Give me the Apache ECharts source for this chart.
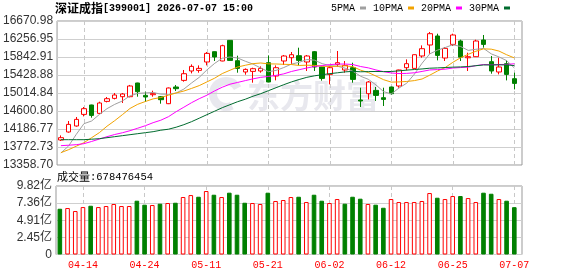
<!DOCTYPE html>
<html lang="zh">
<head>
    <meta charset="UTF-8">
    <title>深证成指</title>
    <script src="https://cdn.jsdelivr.net/npm/echarts@6/dist/echarts.min.js"></script>
    <style>
        html, body { margin: 0; padding: 0; background: #fff; }
        #charts { width: 578px; height: 276px; }
    </style>
</head>
<body>
<div id="charts"></div>

<script>
    // 交易日
    var dates = [
        '04-09','04-10','04-13','04-14','04-15','04-16','04-17','04-20','04-21','04-22',
        '04-23','04-24','04-27','04-28','04-29','04-30','05-06','05-07','05-08','05-11',
        '05-12','05-13','05-14','05-15','05-18','05-19','05-20','05-21','05-22','05-25',
        '05-26','05-27','05-28','05-29','06-01','06-02','06-03','06-04','06-05','06-08',
        '06-09','06-10','06-11','06-12','06-15','06-16','06-17','06-18','06-22','06-23',
        '06-24','06-25','06-26','06-29','06-30','07-01','07-02','07-03','07-06','07-07'
    ];
    // 横轴显示的日期
    var shownDates = ['04-14', '04-24', '05-11', '05-21', '06-02', '06-12', '06-25', '07-07'];

    // K线
    var opens = [
        13934,14118,14256,14523,14739,14546,14822,14891,14930,14930,
        15245,14960,14976,14930,14769,15153,15305,15521,15535,15728,
        15965,15751,16225,15758,15498,15512,15521,15712,15406,15751,
        15827,15873,15728,15965,15613,15443,15673,15544,15597,14854,
        14999,15075,14907,15153,15176,15597,15581,15866,16119,16326,
        15820,16133,16211,15825,15850,16234,15735,15498,15689,15344
    ];
    var closes = [
        13987,14293,14408,14654,14500,14785,14884,14969,14992,15176,
        15045,14923,15006,14861,15130,15114,15459,15627,15581,15926,
        15843,16103,15765,15581,15558,15574,15580,15268,15597,15866,
        15896,15765,15866,15613,15351,15597,15712,15650,15328,14831,
        15268,14960,14868,14999,15544,15689,15896,16034,16379,15880,
        16041,16349,15840,15850,16211,16133,15521,15613,15443,15236
    ];
    var lows = [
        13911,14102,14240,14477,14447,14532,14799,14868,14785,14915,
        14930,14808,14930,14769,14760,15061,15275,15466,15482,15650,
        15751,15745,15760,15482,15436,15252,15482,15260,15305,15659,
        15673,15650,15521,15521,15298,15213,15613,15482,15252,14693,
        14868,14831,14716,14976,15137,15535,15575,15827,15919,15765,
        15751,16096,15751,15521,15845,16057,15459,15443,15305,15098
    ];
    var highs = [
        14040,14371,14463,14693,14745,14815,14923,15015,15015,15200,
        15250,15045,15068,14946,15140,15199,15544,15673,15650,15958,
        15970,16126,16230,15873,15581,15597,15627,15880,15650,15889,
        15958,16057,15889,15981,15620,15635,15981,15751,15712,15137,
        15291,15153,15137,15160,15550,15788,15900,16110,16418,16379,
        16073,16379,16241,15942,16241,16349,15866,15827,15765,15482
    ];
    var prevClose = 14000;   // 首日前一交易日收盘

    // 均线
    var ma5 = [
        13635,13796,14063,14309,14371,14520,14655,14753,14831,14950,
        15005,15018,15025,14990,14985,15015,15105,15245,15375,15545,
        15695,15815,15843,15820,15745,15680,15590,15505,15535,15600,
        15680,15720,15785,15770,15690,15645,15630,15585,15515,15400,
        15330,15200,15045,14995,15130,15240,15450,15700,15915,16000,
        16060,16125,16085,15995,16020,16040,15915,15845,15760,15590
    ];
    var ma10 = [
        13642,13711,13791,13872,13987,14102,14251,14378,14516,14660,
        14755,14820,14880,14910,14965,15015,15060,15120,15185,15270,
        15355,15462,15538,15613,15653,15690,15705,15685,15682,15675,
        15670,15648,15654,15650,15630,15625,15630,15640,15620,15540,
        15485,15405,15320,15265,15270,15280,15300,15337,15425,15520,
        15600,15720,15825,15905,15975,16030,16023,15980,15895,15822
    ];
    var ma20 = [
        13803,13814,13826,13849,13900,13955,14010,14060,14100,14148,
        14205,14263,14332,14389,14470,14585,14688,14792,14884,14964,
        15063,15148,15217,15258,15300,15340,15375,15395,15420,15455,
        15510,15550,15590,15625,15645,15668,15680,15681,15669,15624,
        15593,15545,15505,15475,15463,15466,15480,15511,15545,15553,
        15563,15589,15600,15610,15644,15670,15665,15670,15672,15688
    ];
    var ma30 = [
        13941,13941,13941,13941,13952,13964,13987,14010,14033,14056,
        14079,14102,14125,14159,14182,14228,14286,14355,14435,14516,
        14596,14677,14746,14815,14872,14941,14999,15068,15137,15206,
        15270,15325,15375,15410,15435,15460,15480,15501,15512,15503,
        15507,15510,15507,15510,15524,15541,15555,15568,15585,15592,
        15601,15609,15615,15624,15643,15660,15660,15662,15661,15645
    ];

    // 成交量(亿)
    var volumes = [
        6.56,6.66,6.23,6.80,6.99,6.80,6.95,7.24,6.95,6.95,
        7.71,7.14,7.09,7.28,7.38,7.42,8.24,8.52,8.28,9.10,
        8.57,8.24,8.86,8.57,7.42,7.38,7.24,8.86,7.67,7.81,
        8.24,8.28,7.52,8.57,7.71,7.38,7.95,7.28,8.28,8.00,
        7.24,7.14,6.70,7.95,7.52,7.52,7.52,7.67,8.81,8.14,
        7.95,8.38,8.38,8.09,7.52,8.86,8.71,7.95,7.71,6.78476454
    ];

    // 纵轴刻度
    var priceTicks = ['16670.98','16256.95','15842.91','15428.88','15014.84','14600.80','14186.77','13772.73','13358.70'];
    var volTicks = ['0', '2.45亿', '4.91亿', '7.36亿', '9.82亿'];

    var maNames = ['5PMA', '10PMA', '20PMA', '30PMA'];
    var maColors = ['#a0a0a0', '#f2a300', '#ff00ff', '#006b2e'];

    var upColor = '#ff0000';
    var downColor = '#008000';
    var mono = '"Liberation Mono", "Noto Sans CJK SC", monospace';
    var sans = '"Liberation Sans", "Noto Sans CJK SC", sans-serif';
    var cjk = '"Noto Sans CJK SC", sans-serif';

    var labelIdx = shownDates.map(function (d) { return dates.indexOf(d); });
    var priceVals = priceTicks.map(Number);
    var volMax = parseFloat(volTicks[volTicks.length - 1]);
    var volVals = volTicks.map(function (s, i) { return volMax * i / (volTicks.length - 1); });

    function nearestLabel(vals, labels, v) {
        var best = 0;
        for (var i = 1; i < vals.length; i++) {
            if (Math.abs(vals[i] - v) < Math.abs(vals[best] - v)) best = i;
        }
        return labels[best];
    }

    var chart = echarts.init(document.getElementById('charts'));

    var maSeries = maNames.map(function (name, k) {
        var arr = [ma5, ma10, ma20, ma30][k];
        return {
            name: name,
            type: 'line',
            xAxisIndex: 0,
            yAxisIndex: 0,
            symbol: 'none',
            silent: true,
            lineStyle: { width: 1, color: maColors[k] },
            itemStyle: { color: maColors[k] },
            data: arr.map(function (v, i) { return [i, v]; })
        };
    });

    var volData = volumes.map(function (v, i) {
        var before = i === 0 ? prevClose : closes[i - 1];
        var up = closes[i] >= before;
        return {
            value: [i, v],
            itemStyle: {
                color: up ? '#fff' : downColor,
                borderColor: up ? upColor : downColor,
                borderWidth: 1
            }
        };
    });

    var xAxes = [0, 1].map(function (g) {
        return {
            type: 'value',
            gridIndex: g,
            min: -0.5,
            max: 60,
            axisLine: { show: false },
            axisTick: { show: false, customValues: labelIdx },
            axisLabel: {
                show: g === 1,
                customValues: labelIdx,
                color: upColor,
                fontFamily: mono,
                fontSize: 10,
                margin: 6,
                formatter: function (v) { return dates[v]; }
            },
            splitLine: { show: true, lineStyle: { color: '#c8c8c8', type: [4, 3], width: 1 } }
        };
    });

    var option = {
        animation: false,
        backgroundColor: '#fff',
        title: {
            text: '{cn|深证成指}{en|[399001] 2026-07-07 15:00}',
            left: 55,
            top: 2,
            padding: 0,
            textStyle: {
                rich: {
                    cn: { fontFamily: cjk, fontSize: 12, color: '#000' },
                    en: { fontFamily: mono, fontSize: 10, color: '#000' }
                }
            }
        },
        legend: {
            data: maNames,
            right: 68,
            top: 3,
            align: 'right',
            icon: 'rect',
            itemWidth: 6,
            itemHeight: 3,
            itemGap: 7,
            padding: 0,
            textStyle: { fontFamily: mono, fontSize: 10, color: '#000' }
        },
        grid: [
            { left: 56, top: 21, width: 466, height: 144, show: true, borderColor: '#999', borderWidth: 1, backgroundColor: 'transparent' },
            { left: 56, top: 186, width: 466, height: 68.5, show: true, borderColor: '#999', borderWidth: 1, backgroundColor: 'transparent' }
        ],
        xAxis: xAxes,
        yAxis: [
            {
                type: 'value',
                gridIndex: 0,
                min: priceVals[priceVals.length - 1],
                max: priceVals[0],
                axisLine: { show: false },
                axisTick: { show: false, customValues: priceVals },
                axisLabel: {
                    customValues: priceVals,
                    color: '#333',
                    fontFamily: sans,
                    fontSize: 12,
                    margin: 4,
                    formatter: function (v) { return nearestLabel(priceVals, priceTicks, v); }
                },
                splitLine: { lineStyle: { color: '#cfcfcf', width: 1 } }
            },
            {
                type: 'value',
                gridIndex: 1,
                min: 0,
                max: volMax,
                axisLine: { show: false },
                axisTick: { show: false, customValues: volVals },
                axisLabel: {
                    customValues: volVals,
                    color: '#333',
                    fontFamily: sans,
                    fontSize: 12,
                    margin: 4,
                    formatter: function (v) { return nearestLabel(volVals, volTicks, v); }
                },
                splitLine: { lineStyle: { color: '#cfcfcf', width: 1 } }
            }
        ],
        graphic: [
            {
                type: 'group',
                z: -1,
                silent: true,
                children: [
                    {
                        type: 'arc',
                        shape: { cx: 226, cy: 94, r: 13, startAngle: Math.PI * 0.35, endAngle: Math.PI * 1.85 },
                        style: { stroke: '#e8e8ee', lineWidth: 8, fill: null }
                    },
                    {
                        type: 'text',
                        x: 247,
                        y: 95,
                        style: {
                            text: '东方财富',
                            fontFamily: cjk,
                            fontSize: 33,
                            fontWeight: 'bold',
                            fill: '#e8e8ee',
                            verticalAlign: 'middle'
                        }
                    }
                ]
            },
            {
                type: 'text',
                x: 57,
                y: 177,
                style: {
                    text: '{cn|成交量}{en|:' + Math.round(volumes[volumes.length - 1] * 1e8) + '}',
                    verticalAlign: 'middle',
                    rich: {
                        cn: { fontFamily: cjk, fontSize: 11, fill: '#000' },
                        en: { fontFamily: mono, fontSize: 10.5, fill: '#000' }
                    }
                }
            }
        ],
        series: [
            {
                name: '深证成指',
                type: 'candlestick',
                xAxisIndex: 0,
                yAxisIndex: 0,
                barWidth: 5,
                silent: true,
                itemStyle: {
                    color: '#fff',
                    color0: downColor,
                    borderColor: upColor,
                    borderColor0: downColor,
                    borderWidth: 1
                },
                data: dates.map(function (d, i) {
                    return [i, opens[i], closes[i], lows[i], highs[i]];
                })
            }
        ].concat(maSeries).concat([
            {
                name: '成交量',
                type: 'bar',
                xAxisIndex: 1,
                yAxisIndex: 1,
                barWidth: 4.6,
                silent: true,
                data: volData
            }
        ])
    };

    chart.setOption(option);
</script>
</body>
</html>
